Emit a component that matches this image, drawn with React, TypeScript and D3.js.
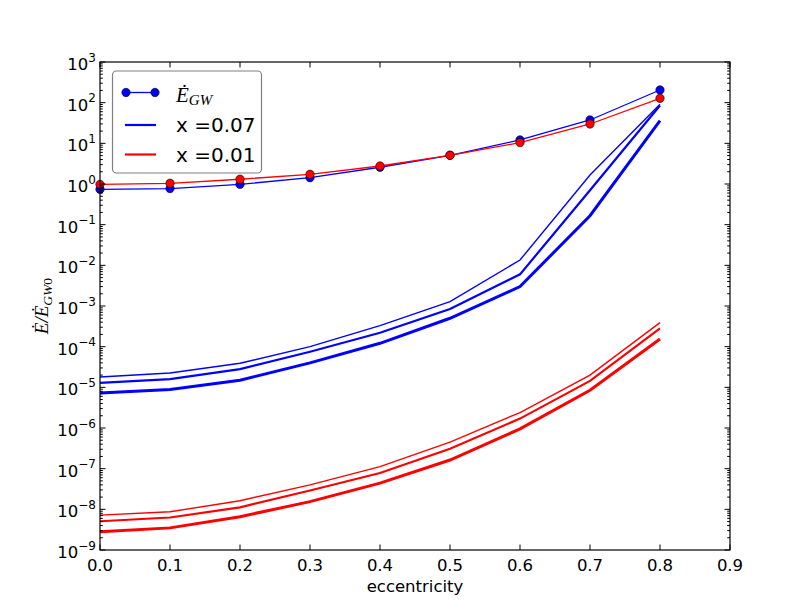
import React from "react";
import * as d3 from "d3";

// Eccentricity grid
const ecc = [0, 0.1, 0.2, 0.3, 0.4, 0.5, 0.6, 0.7, 0.8];

// Normalised GW energy flux (markers)
const egwBlue = [0.74, 0.77, 0.98, 1.43, 2.58, 5.08, 12.1, 37.5, 205];
const egwRed = [0.98, 1.04, 1.31, 1.73, 2.77, 5.08, 10.4, 29.9, 128];

// x = 0.07 family (thin, medium, thick)
const blueThin = [1.8e-5, 2.25e-5, 3.9e-5, 1.0e-4, 3.3e-4, 1.28e-3, 1.35e-2, 1.67, 91];
const blueMed = [1.29e-5, 1.6e-5, 2.8e-5, 7.5e-5, 2.2e-4, 8.4e-4, 6.0e-3, 0.7, 85];
const blueThick = [7.3e-6, 8.9e-6, 1.5e-5, 4.0e-5, 1.21e-4, 5.0e-4, 3.0e-3, 0.166, 36];

// x = 0.01 family (thin, medium, thick)
const redThin = [7.2e-9, 8.7e-9, 1.63e-8, 4.0e-8, 1.12e-7, 4.5e-7, 2.4e-6, 2.0e-5, 3.9e-4];
const redMed = [5.1e-9, 6.3e-9, 1.12e-8, 2.9e-8, 7.8e-8, 3.1e-7, 1.7e-6, 1.44e-5, 2.8e-4];
const redThick = [2.8e-9, 3.5e-9, 6.6e-9, 1.55e-8, 4.4e-8, 1.63e-7, 9.5e-7, 8.5e-6, 1.55e-4];

const xTicks = [0, 0.1, 0.2, 0.3, 0.4, 0.5, 0.6, 0.7, 0.8, 0.9];
const yExponents = [-9, -8, -7, -6, -5, -4, -3, -2, -1, 0, 1, 2, 3];

const legendLabels = ["x =0.07", "x =0.01"];

const BLUE = "#0000ff";
const RED = "#ff0000";
const SANS = "'DejaVu Sans', sans-serif";
const SERIF = "'Liberation Serif', 'DejaVu Serif', serif";

export default function App() {
  const L = 100, R = 730, T = 62, B = 550;
  const x = d3.scaleLinear().domain([0, 0.9]).range([L, R]);
  const y = d3.scaleLog().domain([1e-9, 1e3]).range([B, T]);

  const line = d3
    .line<[number, number]>()
    .x((d) => x(d[0]))
    .y((d) => y(d[1]));
  const pts = (vals: number[]) => ecc.map((e, i) => [e, vals[i]] as [number, number]);

  const majorLen = 5.5;
  const minorLen = 2.8;

  const minorY: number[] = [];
  for (let p = -9; p < 3; p++) {
    for (let k = 2; k <= 9; k++) minorY.push(k * Math.pow(10, p));
  }

  const series = [
    { v: blueThin, c: BLUE, w: 1.4 },
    { v: blueMed, c: BLUE, w: 2.2 },
    { v: blueThick, c: BLUE, w: 3 },
    { v: redThin, c: RED, w: 1.4 },
    { v: redMed, c: RED, w: 2.2 },
    { v: redThick, c: RED, w: 3 },
  ];

  const fmt = (e: number) => (e < 0 ? "\u2212" + Math.abs(e) : String(e));

  return (
    <svg
      width={812}
      height={612}
      style={{ position: "absolute", left: 0, top: 0, background: "#fff" }}
      fontFamily={SANS}
    >
      <rect x={0} y={0} width={812} height={612} fill="#fff" />

      {/* energy flux curves */}
      <path d={line(pts(egwBlue)) || ""} fill="none" stroke={BLUE} strokeWidth={1.3} />
      {series.slice(0, 3).map((s, i) => (
        <path key={"b" + i} d={line(pts(s.v)) || ""} fill="none" stroke={s.c} strokeWidth={s.w} />
      ))}
      {ecc.map((e, i) => (
        <circle key={"mb" + i} cx={x(e)} cy={y(egwBlue[i])} r={4.2} fill={BLUE} stroke="#000" strokeWidth={0.6} />
      ))}
      <path d={line(pts(egwRed)) || ""} fill="none" stroke={RED} strokeWidth={1.3} />
      {series.slice(3).map((s, i) => (
        <path key={"r" + i} d={line(pts(s.v)) || ""} fill="none" stroke={s.c} strokeWidth={s.w} />
      ))}
      {ecc.map((e, i) => (
        <circle key={"mr" + i} cx={x(e)} cy={y(egwRed[i])} r={4.2} fill={RED} stroke="#000" strokeWidth={0.6} />
      ))}

      {/* frame */}
      <rect x={L} y={T} width={R - L} height={B - T} fill="none" stroke="#000" strokeWidth={1.2} />

      {/* x ticks */}
      {xTicks.map((t) => (
        <g key={"xt" + t}>
          <line x1={x(t)} x2={x(t)} y1={B} y2={B - majorLen} stroke="#000" strokeWidth={1} />
          <line x1={x(t)} x2={x(t)} y1={T} y2={T + majorLen} stroke="#000" strokeWidth={1} />
          <text x={x(t)} y={571} textAnchor="middle" fontSize={16.5} fill="#000">
            {t.toFixed(1)}
          </text>
        </g>
      ))}

      {/* y ticks */}
      {yExponents.map((p) => {
        const yy = y(Math.pow(10, p));
        return (
          <g key={"yt" + p}>
            <line x1={L} x2={L + majorLen} y1={yy} y2={yy} stroke="#000" strokeWidth={1} />
            <line x1={R} x2={R - majorLen} y1={yy} y2={yy} stroke="#000" strokeWidth={1} />
            <text x={96} y={yy + 8} textAnchor="end" fontSize={16.5} fill="#000">
              10
              <tspan fontSize={12} dy={-8.5}>
                {fmt(p)}
              </tspan>
            </text>
          </g>
        );
      })}
      {minorY.map((v, i) => {
        const yy = y(v);
        return (
          <g key={"ym" + i}>
            <line x1={L} x2={L + minorLen} y1={yy} y2={yy} stroke="#000" strokeWidth={1} />
            <line x1={R} x2={R - minorLen} y1={yy} y2={yy} stroke="#000" strokeWidth={1} />
          </g>
        );
      })}

      {/* axis labels */}
      <text x={415} y={592} textAnchor="middle" fontSize={16.5} fill="#000">
        eccentricity
      </text>
      <text transform="translate(48,306) rotate(-90)" textAnchor="middle" fontFamily={SERIF} fontSize={19} fill="#000">
        <tspan fontStyle="italic">Ė/Ė</tspan>
        <tspan fontSize={13.5} dy={4} fontStyle="italic">GW</tspan>
        <tspan fontSize={13.5}>0</tspan>
      </text>

      {/* legend */}
      <rect x={112.5} y={71} width={149} height={102} rx={4} ry={4} fill="#fff" stroke="#808080" strokeWidth={1.2} />
      <line x1={126} x2={155} y1={92.5} y2={92.5} stroke={BLUE} strokeWidth={1.3} />
      <circle cx={126} cy={92.5} r={4.2} fill={BLUE} stroke="#000" strokeWidth={0.6} />
      <circle cx={155} cy={92.5} r={4.2} fill={BLUE} stroke="#000" strokeWidth={0.6} />
      <text x={176} y={102} fontFamily={SERIF} fontSize={21} fill="#000" fontStyle="italic">
        Ė
        <tspan fontSize={15} dy={3}>GW</tspan>
      </text>
      <line x1={125} x2={156} y1={125} y2={125} stroke={BLUE} strokeWidth={2.2} />
      <text x={176} y={132} fontSize={20} fill="#000">
        {legendLabels[0]}
      </text>
      <line x1={125} x2={156} y1={154.5} y2={154.5} stroke={RED} strokeWidth={2.2} />
      <text x={176} y={161.5} fontSize={20} fill="#000">
        {legendLabels[1]}
      </text>
    </svg>
  );
}
